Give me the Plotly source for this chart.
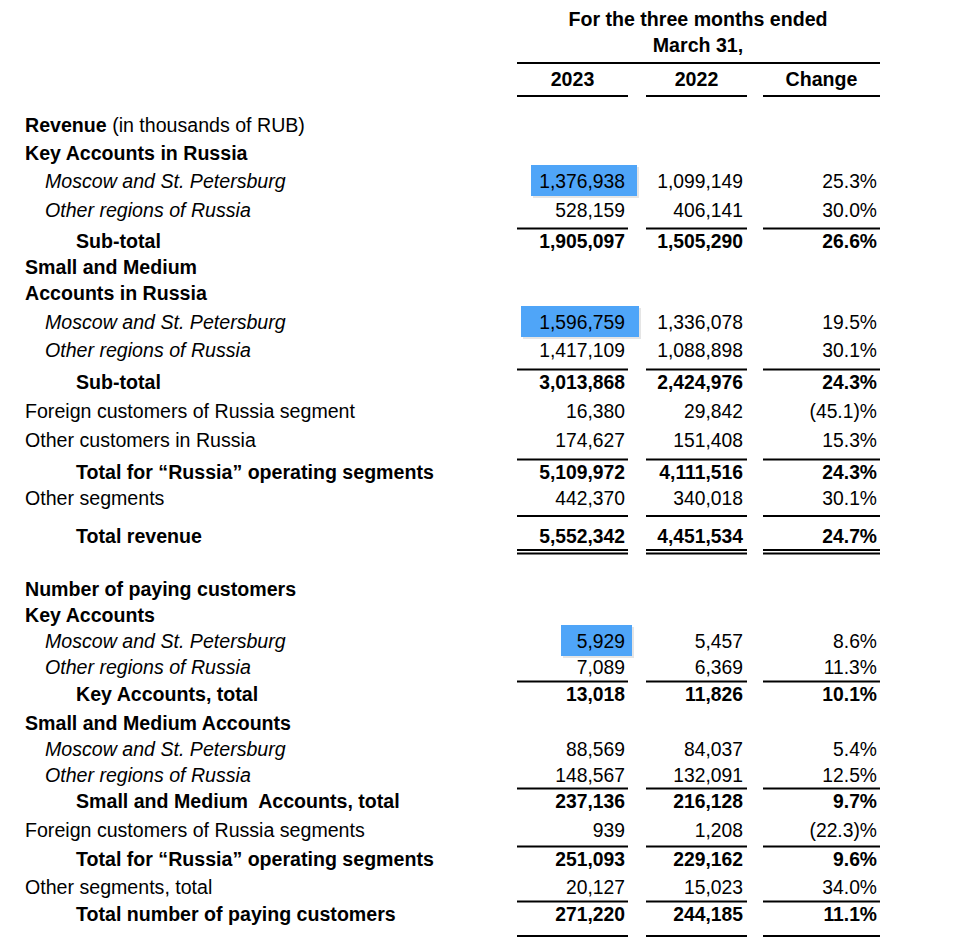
import plotly.graph_objects as go

# ---------------- data ----------------
labels = [
    "Revenue", "Key Accounts in Russia", "Moscow and St. Petersburg", "Other regions of Russia", "Sub-total",
    "Small and Medium", "Accounts in Russia", "Moscow and St. Petersburg", "Other regions of Russia", "Sub-total",
    "Foreign customers of Russia segment", "Other customers in Russia",
    "Total for \u201cRussia\u201d operating segments", "Other segments", "Total revenue",
    "Number of paying customers", "Key Accounts", "Moscow and St. Petersburg", "Other regions of Russia",
    "Key Accounts, total", "Small and Medium Accounts", "Moscow and St. Petersburg", "Other regions of Russia",
    "Small and Medium  Accounts, total", "Foreign customers of Russia segments",
    "Total for \u201cRussia\u201d operating segments", "Other segments, total", "Total number of paying customers",
]
# h = section heading (bold), i = italic sub-row, s = bold sub-total, n = normal
row_kind = ["h", "h", "i", "i", "s", "h", "h", "i", "i", "s", "n", "n", "s", "n", "s",
            "h", "h", "i", "i", "s", "h", "i", "i", "s", "n", "s", "n", "s"]
v2023 = [None, None, 1376938, 528159, 1905097, None, None, 1596759, 1417109, 3013868, 16380, 174627,
         5109972, 442370, 5552342, None, None, 5929, 7089, 13018, None, 88569, 148567, 237136, 939,
         251093, 20127, 271220]
v2022 = [None, None, 1099149, 406141, 1505290, None, None, 1336078, 1088898, 2424976, 29842, 151408,
         4111516, 340018, 4451534, None, None, 5457, 6369, 11826, None, 84037, 132091, 216128, 1208,
         229162, 15023, 244185]
change = [None, None, 25.3, 30.0, 26.6, None, None, 19.5, 30.1, 24.3, -45.1, 15.3, 24.3, 30.1, 24.7,
          None, None, 8.6, 11.3, 10.1, None, 5.4, 12.5, 9.7, -22.3, 9.6, 34.0, 11.1]
col_headers = ["2023", "2022", "Change"]
title_lines = ["For the three months ended", "March 31,"]
highlighted_rows = [2, 7, 17]   # 2023 cells highlighted in blue

# ---------------- layout ----------------
row_y = [125, 153, 181, 210, 241, 267, 293, 322, 350, 382, 411, 440, 472, 498, 536,
         589, 615, 641, 667, 694, 723, 749, 775, 801, 830, 859, 887, 914]
TXT_DY = 2.5
indent_x = {"h": 25, "n": 25, "i": 45, "s": 76}
col_left = [517, 646, 763]
col_right_line = [628, 747, 880]
col_text_right = [625, 743, 877]
FONT = "Liberation Sans, Arial, sans-serif"
FS_LAB = 19.6
FS_NUM = 19.3
BLUE = "#4FA5F8"
rule_above_rows = [4, 9, 12, 14, 19, 23, 25, 27]
PAGE_OFF = 8  # default body margin of the html page

fig = go.Figure()

def fmt_num(v):
    return f"{v:,}"

def fmt_chg(v):
    return f"({abs(v):.1f})%" if v < 0 else f"{v:.1f}%"

# labels
lab_text = []
for lab, k in zip(labels, row_kind):
    if lab == "Revenue":
        lab_text.append("<b>Revenue</b> (in thousands of RUB)")
    elif k in ("h", "s"):
        lab_text.append(f"<b>{lab}</b>")
    elif k == "i":
        lab_text.append(f"<i>{lab}</i>")
    else:
        lab_text.append(lab)
fig.add_trace(go.Scatter(
    x=[indent_x[k] for k in row_kind], y=[y + TXT_DY for y in row_y], mode="text", text=lab_text,
    textposition="middle right", textfont=dict(family=FONT, size=FS_LAB, color="#000"),
    hoverinfo="skip"))

# shapes (highlights, rules)
shapes = []
for r in highlighted_rows:
    w = {2: (531, 637), 7: (521, 639), 17: (561, 632)}[r]
    shapes.append(dict(type="rect", x0=w[0] + 2, x1=w[1] + 2, y0=row_y[r] - 14, y1=row_y[r] + 17,
                       fillcolor="rgba(0,0,0,0.10)", line=dict(width=0), layer="below"))
    shapes.append(dict(type="rect", x0=w[0], x1=w[1], y0=row_y[r] - 16, y1=row_y[r] + 15,
                       fillcolor=BLUE, line=dict(width=0), layer="below"))

def hrule(y):
    for a, b in zip(col_left, col_right_line):
        shapes.append(dict(type="line", x0=a, x1=b, y0=y, y1=y, line=dict(color="#000", width=2)))

# header rules
shapes.append(dict(type="line", x0=col_left[0], x1=col_right_line[2], y0=63, y1=63,
                   line=dict(color="#000", width=2)))
hrule(96)
for r in rule_above_rows:
    if labels[r] == "Total revenue":
        hrule(row_y[r] - 20)
    else:
        hrule(row_y[r] - 12.5)
# double rule under total revenue
hrule(row_y[14] + 14)
hrule(row_y[14] + 17.5)
# final rule
hrule(row_y[-1] + 22)

# values
for ci, vals in enumerate([v2023, v2022, change]):
    xs, ys, ts = [], [], []
    for r, v in enumerate(vals):
        if v is None:
            continue
        s = fmt_chg(v) if ci == 2 else fmt_num(v)
        if row_kind[r] == "s":
            s = f"<b>{s}</b>"
        xs.append(col_text_right[ci]); ys.append(row_y[r] + TXT_DY); ts.append(s)
    fig.add_trace(go.Scatter(x=xs, y=ys, mode="text", text=ts, textposition="middle left",
                             textfont=dict(family=FONT, size=FS_NUM, color="#000"), hoverinfo="skip"))

# header
fig.add_trace(go.Scatter(
    x=[698, 698], y=[19 + TXT_DY, 45 + TXT_DY], mode="text", text=[f"<b>{t}</b>" for t in title_lines],
    textposition="middle center", textfont=dict(family=FONT, size=FS_LAB, color="#000"), hoverinfo="skip"))
fig.add_trace(go.Scatter(
    x=[(a + b) / 2 for a, b in zip(col_left, col_right_line)], y=[79 + TXT_DY] * 3, mode="text",
    text=[f"<b>{t}</b>" for t in col_headers], textposition="middle center",
    textfont=dict(family=FONT, size=FS_LAB, color="#000"), hoverinfo="skip"))

fig.update_layout(
    width=974 - PAGE_OFF, height=950 - PAGE_OFF, margin=dict(l=0, r=0, t=0, b=0),
    paper_bgcolor="white", plot_bgcolor="white", showlegend=False, shapes=shapes,
    xaxis=dict(range=[PAGE_OFF, 974], visible=False, fixedrange=True),
    yaxis=dict(range=[950, PAGE_OFF], visible=False, fixedrange=True),
)
fig.write_html("out.html", config={"displayModeBar": False})
